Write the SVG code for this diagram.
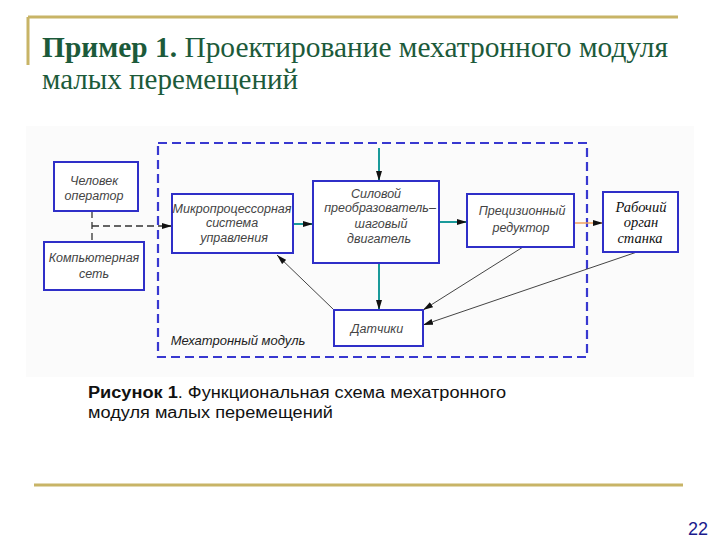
<svg xmlns="http://www.w3.org/2000/svg" width="720" height="540" viewBox="0 0 720 540">
<defs>
<marker id="ah" viewBox="0 0 10 6" refX="10" refY="3" markerWidth="10" markerHeight="6" markerUnits="userSpaceOnUse" orient="auto">
<path d="M0,0 L10,3 L0,6 Z" fill="#111"/>
</marker>
</defs>
<style>
.gold{stroke:#c8b466;stroke-width:3;fill:none}
.title{font-family:"Liberation Serif",serif;font-size:29px;fill:#1c5a3a}
.cap{font-family:"Liberation Sans",sans-serif;font-size:16px;fill:#111}
.box{fill:#fff;stroke:#2f2fc8;stroke-width:2}
.lbl{font-family:"Liberation Sans",sans-serif;font-style:italic;font-size:12.5px;fill:#444;text-anchor:middle}
.ser{font-family:"Liberation Serif",serif;font-style:italic;font-size:14.5px;fill:#111;text-anchor:middle}
.teal{stroke:#1a9a9a;stroke-width:2;fill:none}
.thin{stroke:#444;stroke-width:1;fill:none}
.dash{stroke:#333;stroke-width:1.3;stroke-dasharray:7,4;fill:none}
</style>
<rect width="720" height="540" fill="#fff"/>
<path class="gold" d="M28,17 H678 M28,17 V65 M34,485 H683"/>
<text class="title" x="42" y="57" textLength="626" lengthAdjust="spacingAndGlyphs"><tspan font-weight="bold">Пример 1.</tspan> Проектирование мехатронного модуля</text>
<text class="title" x="42" y="89" textLength="256" lengthAdjust="spacingAndGlyphs">малых перемещений</text>
<rect x="26" y="126" width="668" height="251" fill="#fbfbfb"/>
<rect x="158" y="143" width="429" height="214" fill="none" stroke="#3838d0" stroke-width="2.2" stroke-dasharray="9,5"/>
<text class="lbl" x="238" y="345" style="font-size:13px;fill:#222">Мехатронный модуль</text>
<g id="connectors">
<path class="dash" d="M92,211 V242"/>
<path class="dash" d="M92,226 H172" marker-end="url(#ah)"/>
<path class="teal" d="M293,224 H313" marker-end="url(#ah)"/>
<path class="teal" d="M439,222 H467" marker-end="url(#ah)"/>
<path d="M574,223 H603" stroke="#f0a060" stroke-width="1.5" fill="none" marker-end="url(#ah)"/>
<path class="teal" d="M379,148 V181" marker-end="url(#ah)"/>
<path class="teal" d="M379,263 V310" marker-end="url(#ah)"/>
<path class="thin" d="M333,309 L277,255" marker-end="url(#ah)"/>
<path class="thin" d="M523,247 L423,310" marker-end="url(#ah)"/>
<path class="thin" d="M637,252 L423,325" marker-end="url(#ah)"/>
</g>
<g id="operator">
<rect class="box" x="54" y="162" width="84" height="49"/>
<text class="lbl" x="94" y="185">Человек</text>
<text class="lbl" x="94" y="200">оператор</text>
</g>
<g id="network">
<rect class="box" x="44" y="242" width="100" height="48"/>
<text class="lbl" x="94" y="262">Компьютерная</text>
<text class="lbl" x="94" y="278">сеть</text>
</g>
<g id="mcu">
<rect class="box" x="172" y="194" width="121" height="59"/>
<text class="lbl" x="232" y="213">Микропроцессорная</text>
<text class="lbl" x="232" y="227">система</text>
<text class="lbl" x="234" y="242">управления</text>
</g>
<g id="power">
<rect class="box" x="313" y="181" width="126" height="82"/>
<text class="lbl" x="376" y="198">Силовой</text>
<text class="lbl" x="380" y="212">преобразователь–</text>
<text class="lbl" x="381" y="228">шаговый</text>
<text class="lbl" x="379" y="243">двигатель</text>
</g>
<g id="reducer">
<rect class="box" x="467" y="194" width="107" height="53"/>
<text class="lbl" x="522" y="215">Прецизионный</text>
<text class="lbl" x="521" y="232">редуктор</text>
</g>
<g id="worker">
<rect class="box" x="603" y="192" width="75" height="60"/>
<text class="ser" x="641" y="212">Рабочий</text>
<text class="ser" x="641" y="227">орган</text>
<text class="ser" x="640" y="243">станка</text>
</g>
<g id="sensors">
<rect class="box" x="334" y="310" width="89" height="36"/>
<text class="lbl" x="377" y="333">Датчики</text>
</g>
<text class="cap" x="88" y="398" textLength="418" lengthAdjust="spacingAndGlyphs"><tspan font-weight="bold">Рисунок 1</tspan>. Функциональная схема мехатронного</text>
<text class="cap" x="88" y="418" textLength="245" lengthAdjust="spacingAndGlyphs">модуля малых перемещений</text>
<text x="708" y="535" text-anchor="end" font-family="Liberation Sans,sans-serif" font-size="18" fill="#1a1a8c">22</text>
</svg>
